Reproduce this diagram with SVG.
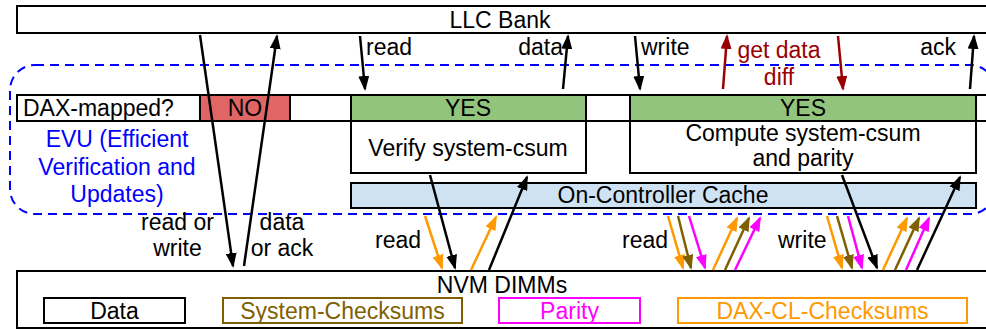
<svg xmlns="http://www.w3.org/2000/svg" width="986" height="329" viewBox="0 0 986 329">
  <style>
    text { font-family: "Liberation Sans", Arial, sans-serif; font-size: 23px; fill: #000; }
    .c { text-anchor: middle; }
    .box { fill: #fff; stroke: #000; stroke-width: 2; }
    .a { fill: none; stroke-width: 2.5; }
    .k { stroke: #000; marker-end: url(#hk); }
    .r { stroke: #990000; marker-end: url(#hr); }
    .o { stroke: #ff9900; marker-end: url(#ho); }
    .b { stroke: #7f6000; marker-end: url(#hb); }
    .m { stroke: #ff00ff; marker-end: url(#hm); }
  </style>
  <defs>
    <marker id="hk" markerUnits="userSpaceOnUse" viewBox="0 0 15 11" markerWidth="15" markerHeight="11" refX="13" refY="5.5" orient="auto"><path d="M0,0 L15,5.5 L0,11 z" fill="#000"/></marker>
    <marker id="hr" markerUnits="userSpaceOnUse" viewBox="0 0 15 11" markerWidth="15" markerHeight="11" refX="13" refY="5.5" orient="auto"><path d="M0,0 L15,5.5 L0,11 z" fill="#990000"/></marker>
    <marker id="ho" markerUnits="userSpaceOnUse" viewBox="0 0 15 11" markerWidth="15" markerHeight="11" refX="13" refY="5.5" orient="auto"><path d="M0,0 L15,5.5 L0,11 z" fill="#ff9900"/></marker>
    <marker id="hb" markerUnits="userSpaceOnUse" viewBox="0 0 15 11" markerWidth="15" markerHeight="11" refX="13" refY="5.5" orient="auto"><path d="M0,0 L15,5.5 L0,11 z" fill="#7f6000"/></marker>
    <marker id="hm" markerUnits="userSpaceOnUse" viewBox="0 0 15 11" markerWidth="15" markerHeight="11" refX="13" refY="5.5" orient="auto"><path d="M0,0 L15,5.5 L0,11 z" fill="#ff00ff"/></marker>
  </defs>

  <rect width="986" height="329" fill="#fff"/>

  <!-- EVU boundary -->
  <g id="evu">
    <rect x="10" y="65" width="985" height="149" rx="25" fill="none" stroke="#0000ff" stroke-width="2" stroke-dasharray="9,6"/>
    <text x="117" y="147" class="c" style="fill:#0000ff">EVU (Efficient</text>
    <text x="117" y="175" class="c" style="fill:#0000ff">Verification and</text>
    <text x="117" y="202" class="c" style="fill:#0000ff">Updates)</text>
  </g>

  <!-- LLC bank -->
  <g id="llc">
    <rect x="17" y="6" width="980" height="27" class="box"/>
    <text x="500" y="27.5" class="c">LLC Bank</text>
  </g>

  <!-- DAX-mapped check row -->
  <g id="dax-row">
    <rect x="17" y="95" width="980" height="26" class="box"/>
    <text x="23" y="116">DAX-mapped?</text>
  </g>
  <g id="no">
    <rect x="200" y="95" width="90" height="26" fill="#e06666" stroke="#000" stroke-width="2"/>
    <text x="245" y="116" class="c">NO</text>
  </g>
  <g id="yes-read">
    <rect x="351" y="95" width="235" height="26" fill="#93c47d" stroke="#000" stroke-width="2"/>
    <text x="468" y="116" class="c">YES</text>
  </g>
  <g id="yes-write">
    <rect x="630" y="95" width="346" height="26" fill="#93c47d" stroke="#000" stroke-width="2"/>
    <text x="803" y="116" class="c">YES</text>
  </g>

  <g id="verify">
    <rect x="351" y="121" width="235" height="52" class="box"/>
    <text x="468" y="156" class="c">Verify system-csum</text>
  </g>
  <g id="compute">
    <rect x="630" y="121" width="346" height="52" class="box"/>
    <text x="803" y="141" class="c">Compute system-csum</text>
    <text x="803" y="166" class="c">and parity</text>
  </g>

  <g id="cache">
    <rect x="351" y="183" width="625" height="25" fill="#cfe2f3" stroke="#000" stroke-width="2"/>
    <text x="663" y="203" class="c">On-Controller Cache</text>
  </g>

  <!-- NVM DIMMs with legend -->
  <g id="nvm">
    <rect x="17" y="271" width="980" height="57" class="box"/>
    <text x="502" y="293" class="c">NVM DIMMs</text>
    <rect x="44" y="298" width="141" height="25" fill="#fff" stroke="#000" stroke-width="2"/>
    <text x="114.5" y="319" class="c">Data</text>
    <rect x="223" y="298" width="239" height="25" fill="#fff" stroke="#7f6000" stroke-width="2"/>
    <text x="342.5" y="319" class="c" style="fill:#7f6000">System-Checksums</text>
    <rect x="499" y="298" width="141" height="25" fill="#fff" stroke="#ff00ff" stroke-width="2"/>
    <text x="569.5" y="319" class="c" style="fill:#ff00ff">Parity</text>
    <rect x="678" y="298" width="289" height="25" fill="#fff" stroke="#ff9900" stroke-width="2"/>
    <text x="822.5" y="319" class="c" style="fill:#ff9900">DAX-CL-Checksums</text>
  </g>

  <!-- connectors -->
  <g id="connectors">
    <!-- non-DAX path straight to NVM -->
    <line x1="200" y1="35" x2="233" y2="266" class="a k"/>
    <line x1="244" y1="266" x2="277" y2="36" class="a k"/>
    <!-- DAX read -->
    <line x1="360" y1="36" x2="365" y2="89" class="a k"/>
    <line x1="563" y1="89" x2="568" y2="36" class="a k"/>
    <!-- DAX write -->
    <line x1="635" y1="36" x2="640" y2="89" class="a k"/>
    <line x1="723" y1="89" x2="727" y2="36" class="a r"/>
    <line x1="838" y1="36" x2="843" y2="89" class="a r"/>
    <line x1="970" y1="89" x2="974" y2="36" class="a k"/>
    <!-- read path below EVU -->
    <line x1="430" y1="175" x2="455" y2="268" class="a k"/>
    <line x1="489" y1="270" x2="527" y2="177" class="a k"/>
    <line x1="425" y1="216" x2="442" y2="268" class="a o"/>
    <line x1="471" y1="270" x2="496" y2="217" class="a o"/>
    <!-- read of checksums and parity -->
    <line x1="668" y1="216" x2="683" y2="268" class="a o"/>
    <line x1="678" y1="216" x2="691" y2="268" class="a b"/>
    <line x1="689" y1="216" x2="705" y2="268" class="a m"/>
    <line x1="713" y1="270" x2="737" y2="218" class="a o"/>
    <line x1="725" y1="270" x2="749" y2="218" class="a b"/>
    <line x1="735" y1="270" x2="760" y2="218" class="a m"/>
    <!-- write of data, checksums and parity -->
    <line x1="827" y1="216" x2="842" y2="268" class="a o"/>
    <line x1="837" y1="216" x2="852" y2="268" class="a b"/>
    <line x1="848" y1="216" x2="862" y2="268" class="a m"/>
    <line x1="842" y1="175" x2="877" y2="268" class="a k"/>
    <line x1="883" y1="270" x2="907" y2="218" class="a o"/>
    <line x1="895" y1="270" x2="919" y2="218" class="a b"/>
    <line x1="906" y1="270" x2="929" y2="218" class="a m"/>
    <line x1="917" y1="270" x2="960" y2="177" class="a k"/>
  </g>

  <!-- connector labels -->
  <g id="labels">
    <text x="366" y="55">read</text>
    <text x="563" y="55" style="text-anchor:end">data</text>
    <text x="641" y="55">write</text>
    <text x="779" y="58" class="c" style="fill:#990000">get data</text>
    <text x="779" y="85" class="c" style="fill:#990000">diff</text>
    <text x="956" y="55" style="text-anchor:end">ack</text>
    <text x="177.5" y="230" class="c">read or</text>
    <text x="177.5" y="256" class="c">write</text>
    <text x="282" y="230" class="c">data</text>
    <text x="282" y="256" class="c">or ack</text>
    <text x="375" y="248">read</text>
    <text x="622" y="248">read</text>
    <text x="778" y="248">write</text>
  </g>
</svg>
